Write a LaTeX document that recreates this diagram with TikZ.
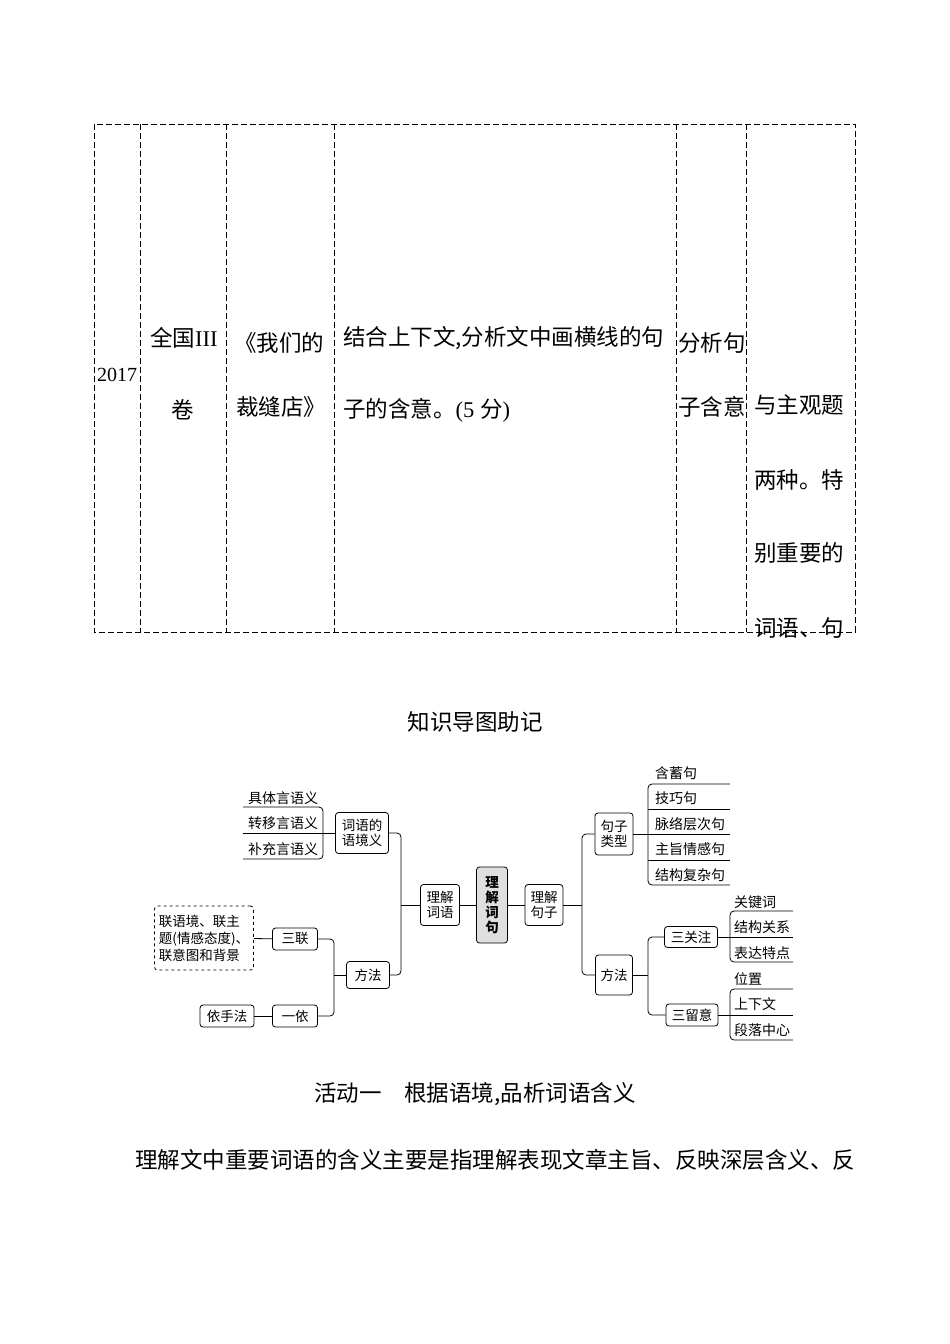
\documentclass[tikz,border=0pt]{standalone}
\usepackage{fontspec}
\setmainfont{Noto Sans CJK SC}
\newfontfamily\serifnum{Liberation Serif}
\begin{document}
\begin{tikzpicture}[x=1pt,y=-1pt,
 big/.style={font=\fontsize{22.5}{22.5}\selectfont,inner sep=0pt},
 sm/.style={font=\fontsize{14}{14}\selectfont,inner sep=0pt},
 bx/.style={draw,rounded corners=3pt,line width=0.8pt,font=\fontsize{13.5}{15}\selectfont,align=center,inner sep=2pt},
 ln/.style={line width=0.8pt},
 dl/.style={dashed,line width=0.8pt,dash pattern=on 6pt off 3pt}]
\useasboundingbox (0,0) rectangle (950,1344);
% table
\draw[dl] (94,124) rectangle (855,632);
\foreach \x in {140,226,334,676,746}{\draw[dl] (\x,124)--(\x,632);}
\node[big,font=\fontsize{20}{20}\selectfont\serifnum] (c1) at (117,375) {2017};
\node[big,anchor=west] (c2a) at (150,338) {全国{\serifnum III}};
\node[big] (c2b) at (183,410) {卷};
\node[big,anchor=west] (c3a) at (234,343) {《我们的};
\node[big,anchor=west] (c3b) at (236,407) {裁缝店》};
\node[big,anchor=west] (c4a) at (343,338) {结合上下文,分析文中画横线的句};
\node[big,anchor=west] (c4b) at (343,410) {子的含意。{\serifnum(5 }分{\serifnum)}};
\node[big,anchor=west] (c5a) at (678,343) {分析句};
\node[big,anchor=west] (c5b) at (678,407) {子含意};
\node[big,anchor=west] (c6a) at (754,405) {与主观题};
\node[big,anchor=west] (c6b) at (754,480) {两种。特};
\node[big,anchor=west] (c6c) at (754,553) {别重要的};
\begin{scope}
\clip (746,600) rectangle (860,639);
\node[big,anchor=west] (c6d) at (754,628) {词语、句};
\end{scope}
\node[big] (h1) at (475,722) {知识导图助记};
\node[big] (h2) at (475,1094) {活动一\quad 根据语境,品析词语含义};
\node[big,anchor=west] (p1) at (135,1160) {理解文中重要词语的含义主要是指理解表现文章主旨、反映深层含义、反};
% mind map center
\node[bx,fill=gray!25,minimum width=31pt,minimum height=76pt,font=\bfseries\fontsize{13.5}{15}\selectfont] (root) at (492,905) {理\\解\\词\\句};
\node[bx,minimum width=39pt,minimum height=41pt] (ljcy) at (440,905) {理解\\词语};
\node[bx,minimum width=38pt,minimum height=41pt] (ljjz) at (544,905) {理解\\句子};
\draw[ln] (ljcy)--(root); \draw[ln] (root)--(ljjz);
% left
\node[bx,minimum width=53pt,minimum height=41pt] (cyy) at (362,833) {词语的\\语境义};
\node[bx,minimum width=43pt,minimum height=27pt] (ffl) at (368,975) {方法};
\draw[ln,rounded corners=4pt] (cyy.east)--(401,833)--(401,975)--(ffl.east);
\draw[ln] (401,905)--(ljcy.west);
\node[sm] (l1) at (283,798) {具体言语义};
\node[sm] (l2) at (283,823) {转移言语义};
\node[sm] (l3) at (283,849) {补充言语义};
\draw[ln,rounded corners=4pt] (243,807)--(323,807)--(323,859)--(243,859);
\draw[ln] (243,833)--(cyy.west);
\node[bx,minimum width=45pt,minimum height=22pt] (sl) at (295,939) {三联};
\node[bx,minimum width=45pt,minimum height=22pt] (yy) at (295,1016) {一依};
\draw[ln,rounded corners=4pt] (sl.east)--(334,939)--(334,1016)--(yy.east);
\draw[ln] (334,975)--(ffl.west);
\node[bx,dashed,minimum width=99pt,minimum height=64pt,align=left,font=\fontsize{13.5}{17}\selectfont] (dsh) at (204,938) {联语境、联主\\题(情感态度)、\\联意图和背景};
\draw[ln] (dsh)--(sl);
\node[bx,minimum width=54pt,minimum height=22pt] (ysf) at (227,1016) {依手法};
\draw[ln] (ysf)--(yy);
% right
\node[bx,minimum width=38pt,minimum height=42pt] (jzlx) at (614,834) {句子\\类型};
\node[bx,minimum width=37pt,minimum height=40pt] (ffr) at (614,975) {方法};
\draw[ln,rounded corners=4pt] (jzlx.west)--(582,834)--(582,975)--(ffr.west);
\draw[ln] (ljjz.east)--(582,905);
\node[sm,anchor=west] (r1) at (655,773) {含蓄句};
\node[sm,anchor=west] (r2) at (655,798) {技巧句};
\node[sm,anchor=west] (r3) at (655,824) {脉络层次句};
\node[sm,anchor=west] (r4) at (655,849) {主旨情感句};
\node[sm,anchor=west] (r5) at (655,875) {结构复杂句};
\draw[ln,rounded corners=4pt] (730,784)--(648,784)--(648,885)--(730,885);
\draw[ln] (648,809)--(730,809); \draw[ln] (648,860)--(730,860);
\draw[ln] (jzlx.east)--(730,834);
\node[bx,minimum width=53pt,minimum height=21pt] (sgz) at (691,937) {三关注};
\node[bx,minimum width=52pt,minimum height=22pt] (sly) at (692,1015) {三留意};
\draw[ln,rounded corners=4pt] (sgz.west)--(648,937)--(648,1015)--(sly.west);
\draw[ln] (ffr.east)--(648,975);
\node[sm,anchor=west] (s1) at (734,902) {关键词};
\node[sm,anchor=west] (s2) at (734,927) {结构关系};
\node[sm,anchor=west] (s3) at (734,953) {表达特点};
\draw[ln,rounded corners=4pt] (793,911)--(730,911)--(730,962)--(793,962);
\draw[ln] (sgz.east)--(793,937);
\node[sm,anchor=west] (u1) at (734,979) {位置};
\node[sm,anchor=west] (u2) at (734,1004) {上下文};
\node[sm,anchor=west] (u3) at (734,1030) {段落中心};
\draw[ln,rounded corners=4pt] (793,989)--(730,989)--(730,1040)--(793,1040);
\draw[ln] (sly.east)--(793,1015);
\end{tikzpicture}
\end{document}
